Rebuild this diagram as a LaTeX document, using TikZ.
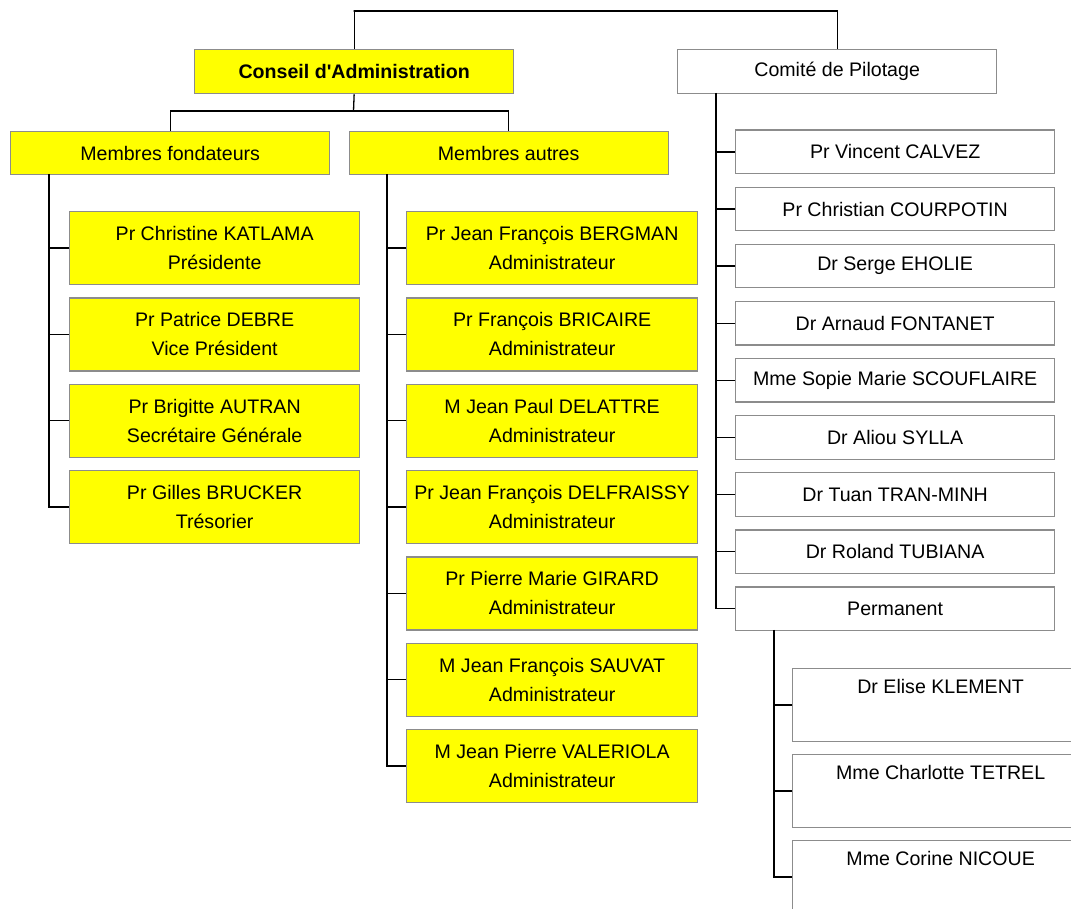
\documentclass[tikz,border=0pt]{standalone}
\usepackage{fontspec}
\setmainfont{Liberation Sans}
\definecolor{boxgray}{HTML}{8C8C8C}
\definecolor{ylw}{HTML}{FFFF00}
\begin{document}
\begin{tikzpicture}[x=1pt,y=-1pt,
  box/.style={draw=boxgray, line width=1.3pt, inner sep=0pt, anchor=north west,
    font=\fontsize{19.6}{29}\selectfont, align=center},
  ybox/.style={box, fill=ylw},
  wbox/.style={box, fill=white},
  conn/.style={draw=black, line width=1.3pt}]
\clip (0,0) rectangle (1071,909);
\fill[white] (0,0) rectangle (1071,909);
% top level
\node[ybox, minimum width=319pt, minimum height=44pt, font=\fontsize{19.6}{29}\selectfont\bfseries] (CA) at (194,49) {Conseil d\textquotesingle Administration};
\node[wbox, minimum width=319pt, minimum height=44pt] (CP) at (677,49) {Comité de Pilotage};
\coordinate (top) at (353.5,11);
\draw[conn] (CA.north) |- (top) -| (CP.north);
% second level
\node[ybox, minimum width=319pt, minimum height=43pt] (MF) at (10,131) {Membres fondateurs};
\node[ybox, minimum width=319pt, minimum height=43pt] (MA) at (348.5,131) {Membres autres};
\coordinate (j1) at (353.5,111);
\draw[conn] (CA.south) -- (j1);
\draw[conn] (MF.north) |- (j1) -| (MA.north);
% fondateurs
\node[ybox, minimum width=290pt, minimum height=73pt] (f1) at (69,211) {Pr Christine KATLAMA\\Présidente};
\node[ybox, minimum width=290pt, minimum height=73pt] (f2) at (69,297.3) {Pr Patrice DEBRE\\Vice Président};
\node[ybox, minimum width=290pt, minimum height=73pt] (f3) at (69,383.6) {Pr Brigitte AUTRAN\\Secrétaire Générale};
\node[ybox, minimum width=290pt, minimum height=73pt] (f4) at (69,469.9) {Pr Gilles BRUCKER\\Trésorier};
\coordinate (mfv) at (49,174);
\draw[conn] (mfv) |- (f4.west);
\foreach \n in {f1,f2,f3} \draw[conn] (\n.west) -- (\n.west -| mfv);
% autres
\node[ybox, minimum width=291pt, minimum height=73pt] (a1) at (406,211) {Pr Jean François BERGMAN\\Administrateur};
\node[ybox, minimum width=291pt, minimum height=73pt] (a2) at (406,297.3) {Pr François BRICAIRE\\Administrateur};
\node[ybox, minimum width=291pt, minimum height=73pt] (a3) at (406,383.6) {M Jean Paul DELATTRE\\Administrateur};
\node[ybox, minimum width=291pt, minimum height=73pt] (a4) at (406,469.9) {Pr Jean François DELFRAISSY\\Administrateur};
\node[ybox, minimum width=291pt, minimum height=73pt] (a5) at (406,556.2) {Pr Pierre Marie GIRARD\\Administrateur};
\node[ybox, minimum width=291pt, minimum height=73pt] (a6) at (406,642.5) {M Jean François SAUVAT\\Administrateur};
\node[ybox, minimum width=291pt, minimum height=73pt] (a7) at (406,728.8) {M Jean Pierre VALERIOLA\\Administrateur};
\coordinate (mav) at (387,174);
\draw[conn] (mav) |- (a7.west);
\foreach \n in {a1,a2,a3,a4,a5,a6} \draw[conn] (\n.west) -- (\n.west -| mav);
% comite de pilotage
\node[wbox, minimum width=319pt, minimum height=43.5pt] (c1) at (735,129.5) {Pr Vincent CALVEZ};
\node[wbox, minimum width=319pt, minimum height=43.5pt] (c2) at (735,186.6) {Pr Christian COURPOTIN};
\node[wbox, minimum width=319pt, minimum height=43.5pt] (c3) at (735,243.7) {Dr Serge EHOLIE};
\node[wbox, minimum width=319pt, minimum height=43.5pt] (c4) at (735,300.8) {Dr Arnaud FONTANET};
\node[wbox, minimum width=319pt, minimum height=43.5pt] (c5) at (735,357.9) {Mme Sopie Marie SCOUFLAIRE};
\node[wbox, minimum width=319pt, minimum height=43.5pt] (c6) at (735,415.0) {Dr Aliou SYLLA};
\node[wbox, minimum width=319pt, minimum height=43.5pt] (c7) at (735,472.1) {Dr Tuan TRAN-MINH};
\node[wbox, minimum width=319pt, minimum height=43.5pt] (c8) at (735,529.2) {Dr Roland TUBIANA};
\node[wbox, minimum width=319pt, minimum height=43.5pt] (perm) at (735,586.3) {Permanent};
\coordinate (cpv) at (716,93);
\draw[conn] (cpv) |- (perm.west);
\foreach \n in {c1,c2,c3,c4,c5,c6,c7,c8} \draw[conn] (\n.west) -- (\n.west -| cpv);
% permanent
\node[wbox, minimum width=296pt, minimum height=72.5pt] (p1) at (792,668) {Dr Elise KLEMENT\\\strut};
\node[wbox, minimum width=296pt, minimum height=72.5pt] (p2) at (792,754) {Mme Charlotte TETREL\\\strut};
\node[wbox, minimum width=296pt, minimum height=72.5pt] (p3) at (792,840) {Mme Corine NICOUE\\\strut};
\coordinate (pv) at (774,629.8);
\draw[conn] (pv) |- (p3.west);
\foreach \n in {p1,p2} \draw[conn] (\n.west) -- (\n.west -| pv);
\end{tikzpicture}
\end{document}
